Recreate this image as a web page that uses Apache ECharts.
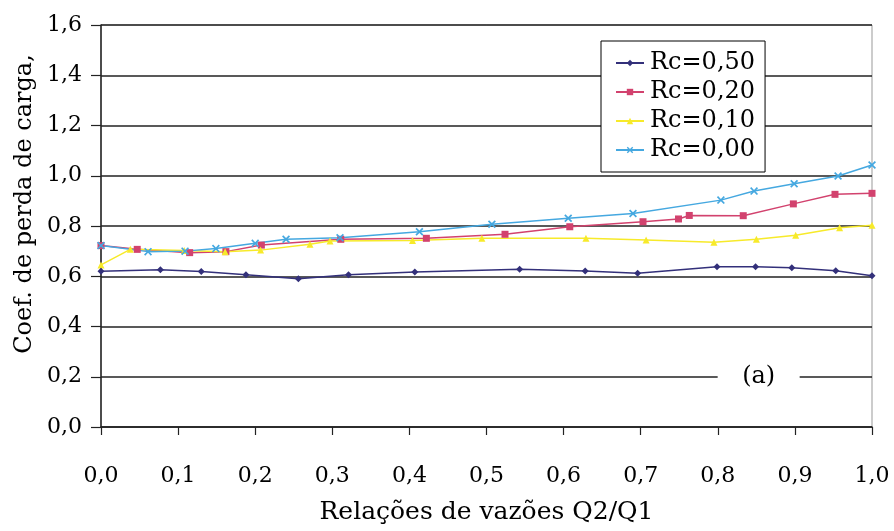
<!DOCTYPE html>
<html>
<head>
<meta charset="utf-8">
<script src="https://cdn.jsdelivr.net/npm/echarts@6/dist/echarts.min.js"></script>
<style>html,body{margin:0;padding:0;background:#fff;}#c{width:894px;height:531px;}</style>
</head>
<body>
<div id="c"></div>
<script>
var seriesNames = ['Rc=0,50', 'Rc=0,20', 'Rc=0,10', 'Rc=0,00'];
var xTicks = ['0,0','0,1','0,2','0,3','0,4','0,5','0,6','0,7','0,8','0,9','1,0'];
var yTicks = ['0,0','0,2','0,4','0,6','0,8','1,0','1,2','1,4','1,6'];

var rc50X = [0.0, 0.077, 0.13, 0.188, 0.256, 0.321, 0.407, 0.543, 0.628, 0.696, 0.799, 0.849, 0.896, 0.953, 1.0];
var rc50Y = [0.620, 0.626, 0.619, 0.606, 0.590, 0.606, 0.617, 0.628, 0.621, 0.612, 0.638, 0.638, 0.634, 0.622, 0.602];

var rc20X = [0.0, 0.047, 0.115, 0.162, 0.208, 0.311, 0.422, 0.524, 0.608, 0.703, 0.749, 0.763, 0.833, 0.898, 0.952, 1.0];
var rc20Y = [0.722, 0.707, 0.694, 0.698, 0.724, 0.747, 0.751, 0.767, 0.797, 0.817, 0.828, 0.842, 0.841, 0.888, 0.926, 0.930];

var rc10X = [0.0, 0.038, 0.108, 0.161, 0.207, 0.271, 0.297, 0.404, 0.494, 0.629, 0.707, 0.795, 0.85, 0.901, 0.958, 1.0];
var rc10Y = [0.645, 0.707, 0.702, 0.698, 0.704, 0.727, 0.740, 0.742, 0.751, 0.751, 0.744, 0.735, 0.747, 0.763, 0.793, 0.803];

var rc00X = [0.0, 0.061, 0.109, 0.149, 0.200, 0.240, 0.310, 0.413, 0.507, 0.606, 0.690, 0.804, 0.847, 0.899, 0.956, 1.0];
var rc00Y = [0.722, 0.698, 0.700, 0.710, 0.731, 0.747, 0.753, 0.777, 0.807, 0.831, 0.850, 0.903, 0.939, 0.968, 0.999, 1.043];

var annotX = [0.853];
var annotY = [0.2];

function zip(xs, ys) { return xs.map(function (x, i) { return [x, ys[i]]; }); }

var serif = "'DejaVu Serif', 'Liberation Serif', serif";
var colors = ['#33307a', '#d2426e', '#f7ea2a', '#45a8e0'];
var xSym = 'path://M0,1.5 L1.5,0 L5,3.5 L8.5,0 L10,1.5 L6.5,5 L10,8.5 L8.5,10 L5,6.5 L1.5,10 L0,8.5 L3.5,5 Z';

var chart = echarts.init(document.getElementById('c'));
chart.setOption({
  animation: false,
  backgroundColor: '#fff',
  color: colors,
  grid: { left: 101, right: 22, top: 25, bottom: 104, show: true, borderColor: '#999', borderWidth: 1, backgroundColor: 'transparent' },
  legend: {
    orient: 'vertical',
    left: 601, top: 41,
    padding: [10, 10, 10, 14],
    itemGap: 5,
    itemWidth: 28, itemHeight: 8,
    borderColor: '#000', borderWidth: 1, backgroundColor: '#fff',
    textStyle: { fontFamily: serif, fontSize: 24, color: '#000', padding: [0, 0, 0, 1] },
    data: seriesNames
  },
  xAxis: {
    type: 'value', min: 0, max: 1, interval: 0.1,
    name: 'Relações de vazões Q2/Q1', nameLocation: 'middle', nameGap: 73,
    nameTextStyle: { fontFamily: serif, fontSize: 25, color: '#000' },
    axisLine: { show: true, lineStyle: { color: '#222', width: 1.5 } },
    axisTick: { show: true, inside: false, length: 8, lineStyle: { color: '#222', width: 1.2 } },
    axisLabel: { margin: 38, fontFamily: serif, fontSize: 22, color: '#000',
      formatter: function (v) { return xTicks[Math.round(v * 10)]; } },
    splitLine: { show: false }
  },
  yAxis: {
    type: 'value', min: 0, max: 1.6, interval: 0.2,
    axisLine: { show: true, lineStyle: { color: '#222', width: 1.5 } },
    axisTick: { show: true, inside: false, length: 10, lineStyle: { color: '#222', width: 1.2 } },
    axisLabel: { margin: 19, fontFamily: serif, fontSize: 22, color: '#000',
      formatter: function (v) { return yTicks[Math.round(v * 5)]; } },
    splitLine: { show: true, lineStyle: { color: '#222', width: 1.5 } }
  },
  graphic: [{
    type: 'text', x: 25, y: 204, rotation: Math.PI / 2,
    style: { text: 'Coef. de perda de carga,', font: "24px 'DejaVu Serif', serif", fill: '#000', align: 'center', verticalAlign: 'middle' }
  }],
  series: [
    { name: seriesNames[0], type: 'line', data: zip(rc50X, rc50Y), symbol: 'diamond', symbolSize: 7,
      lineStyle: { width: 1.5 }, z: 5,
      markPoint: { silent: true, symbol: 'rect', symbolSize: [82, 30], itemStyle: { color: '#fff' },
        label: { show: true, position: 'inside', formatter: '(a)', color: '#000', fontFamily: serif, fontSize: 24 },
        data: [{ coord: [annotX[0], annotY[0]] }] } },
    { name: seriesNames[1], type: 'line', data: zip(rc20X, rc20Y), symbol: 'rect', symbolSize: 7, lineStyle: { width: 1.5 } },
    { name: seriesNames[2], type: 'line', data: zip(rc10X, rc10Y), symbol: 'triangle', symbolSize: 7, lineStyle: { width: 1.5 } },
    { name: seriesNames[3], type: 'line', data: zip(rc00X, rc00Y), symbol: xSym, symbolSize: 8, lineStyle: { width: 1.5 } }
  ]
});
</script>
</body>
</html>
